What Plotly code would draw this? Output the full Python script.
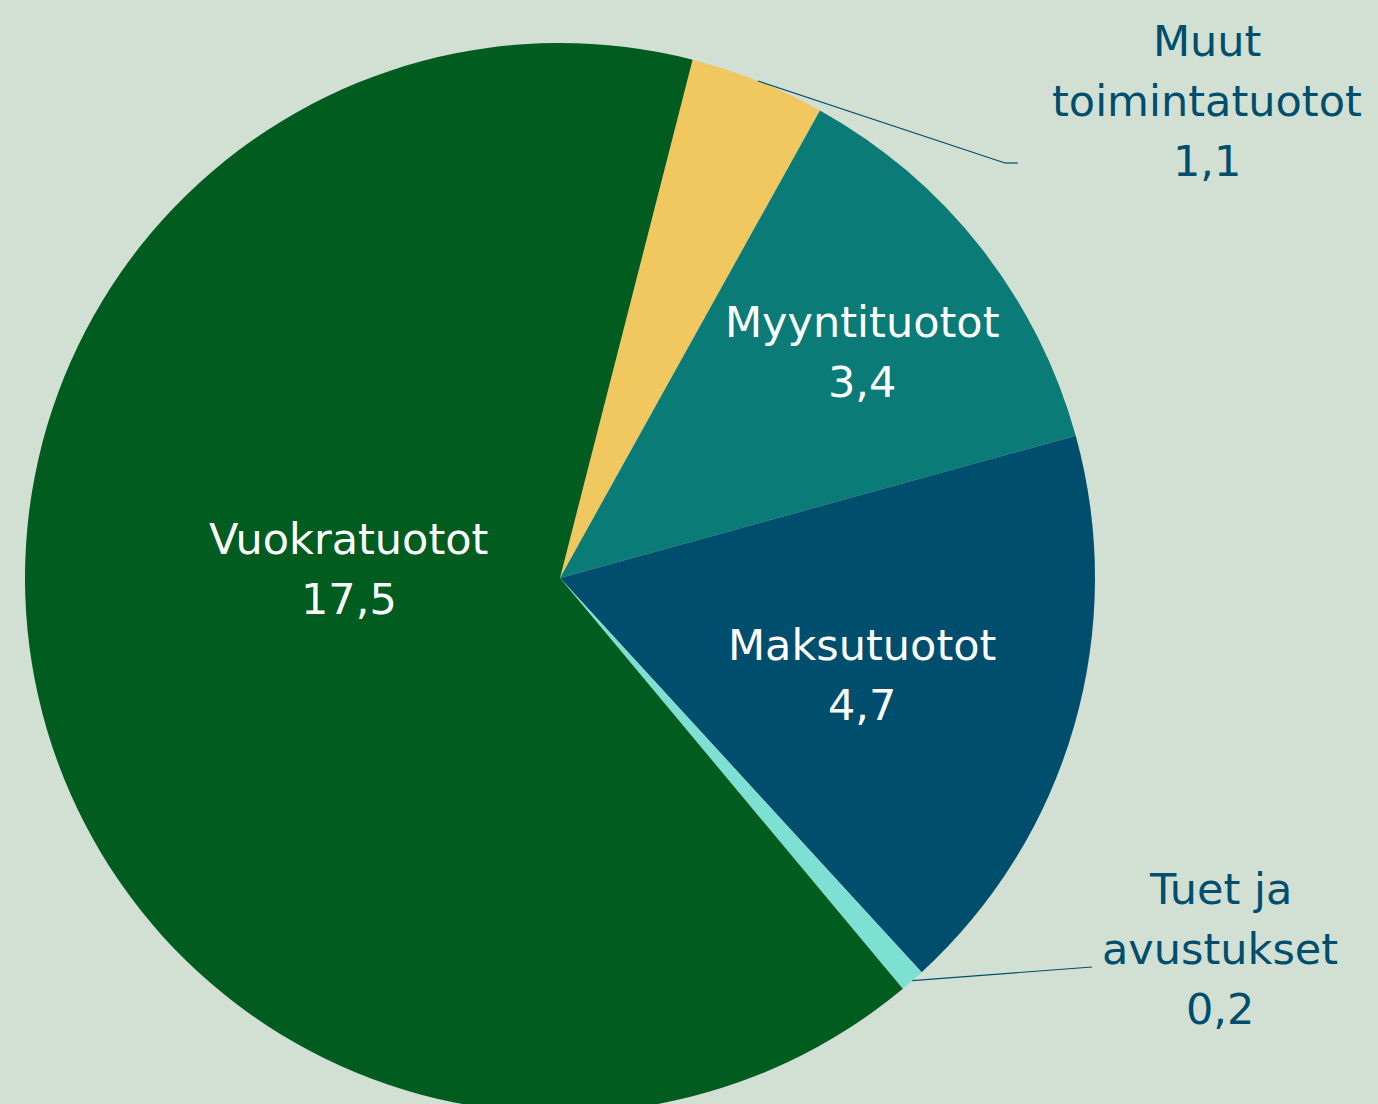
import math
import plotly.graph_objects as go

# ---- data ----
labels = ["Muut toimintatuotot", "Myyntituotot", "Maksutuotot", "Tuet ja avustukset", "Vuokratuotot"]
label_lines = [["Muut", "toimintatuotot"], ["Myyntituotot"], ["Maksutuotot"], ["Tuet ja", "avustukset"], ["Vuokratuotot"]]
values = [1.1, 3.4, 4.7, 0.2, 17.5]
value_text = ["1,1", "3,4", "4,7", "0,2", "17,5"]
colors = ["#F1C75F", "#0A7B76", "#004E6E", "#7DE0D3", "#005C1F"]
outside = [True, False, False, True, False]

# ---- layout constants ----
W, H = 1378, 1120
cx, cy, R = 560, 578, 535        # pixel centre / radius of the pie
BG = "#D2E0D3"
LABEL_COLOR = "#004E6E"
FONT = "DejaVu Sans"
FS = 43
LINE_GAP = 60

total = sum(values)
rotation = 14.35  # degrees clockwise from 12 o'clock where the first slice starts

fig = go.Figure(go.Pie(
    labels=labels,
    values=values,
    textinfo="none",
    marker=dict(colors=colors, line=dict(width=0)),
    sort=False,
    direction="clockwise",
    rotation=rotation,
    showlegend=False,
    hoverinfo="label+value",
    domain=dict(x=[(cx - R) / W, (cx + R) / W],
                y=[(H - cy - R) / H, (H - cy + R) / H]),
))


def px_to_paper(x, y):
    return x / W, 1 - y / H


# label block centres (pixels): x centre, y of middle of block
label_pos = {0: (1207, 101), 1: (862, 352), 2: (862, 675), 3: (1220, 949), 4: (349, 569)}
# leader lines for outside labels: elbow point and end of short horizontal
leader = {0: (1005, 163, 1018), 3: (1092, 967, 1092)}

cum = 0
for i, v in enumerate(values):
    start = cum
    cum += v
    color = LABEL_COLOR if outside[i] else "white"
    lines = label_lines[i] + [value_text[i]]
    tx, ty = label_pos[i]
    n = len(lines)
    for k, line in enumerate(lines):
        ly_ = ty + (k - (n - 1) / 2) * LINE_GAP
        ax, ay = px_to_paper(tx, ly_)
        fig.add_annotation(x=ax, y=ay, xref="paper", yref="paper", showarrow=False,
                           text=line, font=dict(family=FONT, size=FS, color=color),
                           xanchor="center", yanchor="middle", align="center")
    if outside[i]:
        mid = rotation + (start + v / 2) / total * 360
        a = math.radians(mid)
        ex = cx + R * math.sin(a)
        ey = cy - R * math.cos(a)
        lx, ly, lx2 = leader[i]
        x0, y0 = px_to_paper(ex, ey)
        x1, y1 = px_to_paper(lx, ly)
        x2, _ = px_to_paper(lx2, ly)
        fig.add_shape(type="line", xref="paper", yref="paper", x0=x0, y0=y0, x1=x1, y1=y1,
                      line=dict(color=LABEL_COLOR, width=1.2))
        if x2 != x1:
            fig.add_shape(type="line", xref="paper", yref="paper", x0=x1, y0=y1, x1=x2, y1=y1,
                          line=dict(color=LABEL_COLOR, width=1.2))

fig.update_layout(
    width=W, height=H,
    margin=dict(l=0, r=0, t=0, b=0),
    paper_bgcolor=BG,
    plot_bgcolor=BG,
)

fig.write_html("out.html",
               config={"displayModeBar": False},
               post_script="document.body.style.margin='0';document.body.style.overflow='hidden';document.body.style.background='%s';" % BG)
